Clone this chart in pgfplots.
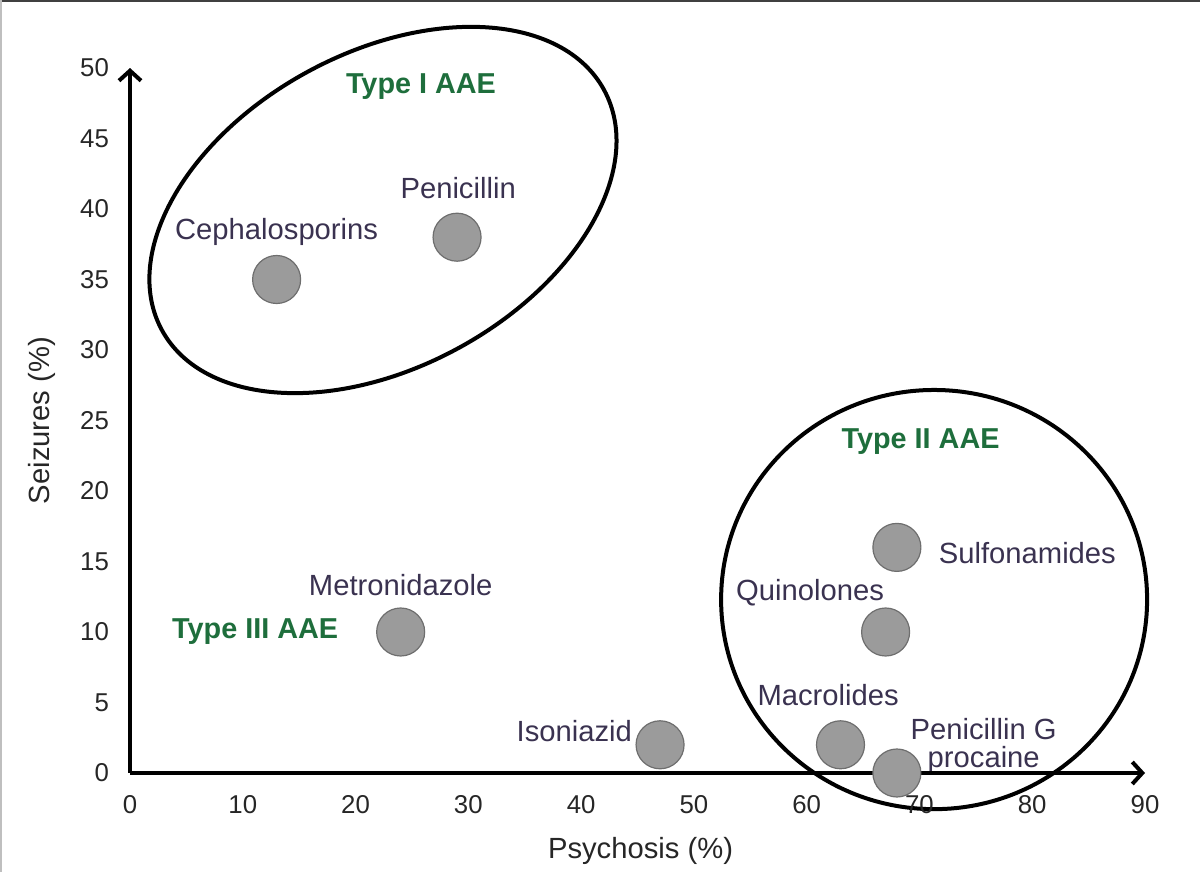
\documentclass[border=0pt]{standalone}
\usepackage{pgfplots}
\pgfplotsset{compat=1.18}
\usepackage{fontspec}
\setmainfont{Liberation Sans}
\usetikzlibrary{arrows.meta}

\definecolor{dotfill}{HTML}{9B9B9B}
\definecolor{dotedge}{HTML}{6E6E6E}
\definecolor{labtext}{HTML}{3A3250}
\definecolor{typegreen}{HTML}{1E6E3C}

\begin{document}
\begin{tikzpicture}
\begin{axis}[
    name=ax,
    scale only axis,
    width=507.5pt, height=352.5pt,
    xmin=0, xmax=90,
    ymin=0, ymax=50,
    xtick={0,10,...,90},
    ytick={0,5,...,50},
    major tick length=0pt,
    axis lines=left,
    axis line style={line width=2pt, -{Straight Barb[length=5pt,width=11pt,line width=2pt]}},
    tick label style={font=\fontsize{12.9}{15}\selectfont, text=black!85},
    /pgf/number format/assume math mode=true,
    xticklabel style={yshift=-7.5pt},
    yticklabel style={xshift=-7pt},
    xlabel={Psychosis (\%)},
    ylabel={Seizures (\%)},
    label style={font=\fontsize{14.6}{17}\selectfont, text=black!85},
    xlabel style={at={(axis description cs:0.503,-0.111)}, anchor=center},
    ylabel style={at={(axis description cs:-0.087,0.5)}, anchor=center},
    clip=false,
    axis on top,
]

% group outlines
\draw[line width=2pt] (axis cs:22.43,39.93) ellipse[x radius=125.8pt, y radius=78.7pt, rotate=28.5];
\draw[line width=2pt] (axis cs:71.3,12.3) ellipse[x radius=106.5pt, y radius=104.8pt];

% drugs: psychosis (%), seizures (%)
\addplot[only marks, mark=*, mark size=12pt,
    mark options={fill=dotfill, draw=dotedge, line width=0.6pt}]
    coordinates {
    (13,35) (29,38) (24,10) (47,2) (68,16) (67,10) (63,2) (68,0)
    };

\begin{scope}[every node/.style={font=\fontsize{14.6}{17}\selectfont, text=labtext}]
\node at (axis cs:13.0,38.4) {Cephalosporins};
\node at (axis cs:29.1,41.5) {Penicillin};
\node at (axis cs:24.0,13.3) {Metronidazole};
\node at (axis cs:39.4,3.0) {Isoniazid};
\node[anchor=west] at (axis cs:71.1,15.6) {Sulfonamides};
\node at (axis cs:60.3,12.8) {Quinolones};
\node at (axis cs:61.9,5.5) {Macrolides};
\node[align=center, inner sep=0pt] at (axis cs:75.7,1.9) {Penicillin G\\[-3pt]procaine};
\end{scope}

\begin{scope}[every node/.style={font=\fontsize{14.4}{17}\selectfont\bfseries, text=typegreen}]
\node at (axis cs:25.8,48.65) {Type I AAE};
\node at (axis cs:70.1,23.5) {Type II AAE};
\node at (axis cs:11.1,10.0) {Type III AAE};
\end{scope}
\end{axis}
\pgfresetboundingbox
\path[use as bounding box] ([shift={(-65pt,-49.5pt)}]ax.south west) rectangle ([shift={(535pt,386.5pt)}]ax.south west);
% thin frame of the original figure
\draw[black!75, line width=0.9pt] ([shift={(-65pt,386.05pt)}]ax.south west) -- ([shift={(535pt,386.05pt)}]ax.south west);
\draw[black!25, line width=0.8pt] ([shift={(-64.6pt,386.5pt)}]ax.south west) -- ([shift={(-64.6pt,-49.5pt)}]ax.south west);
\end{tikzpicture}
\end{document}
